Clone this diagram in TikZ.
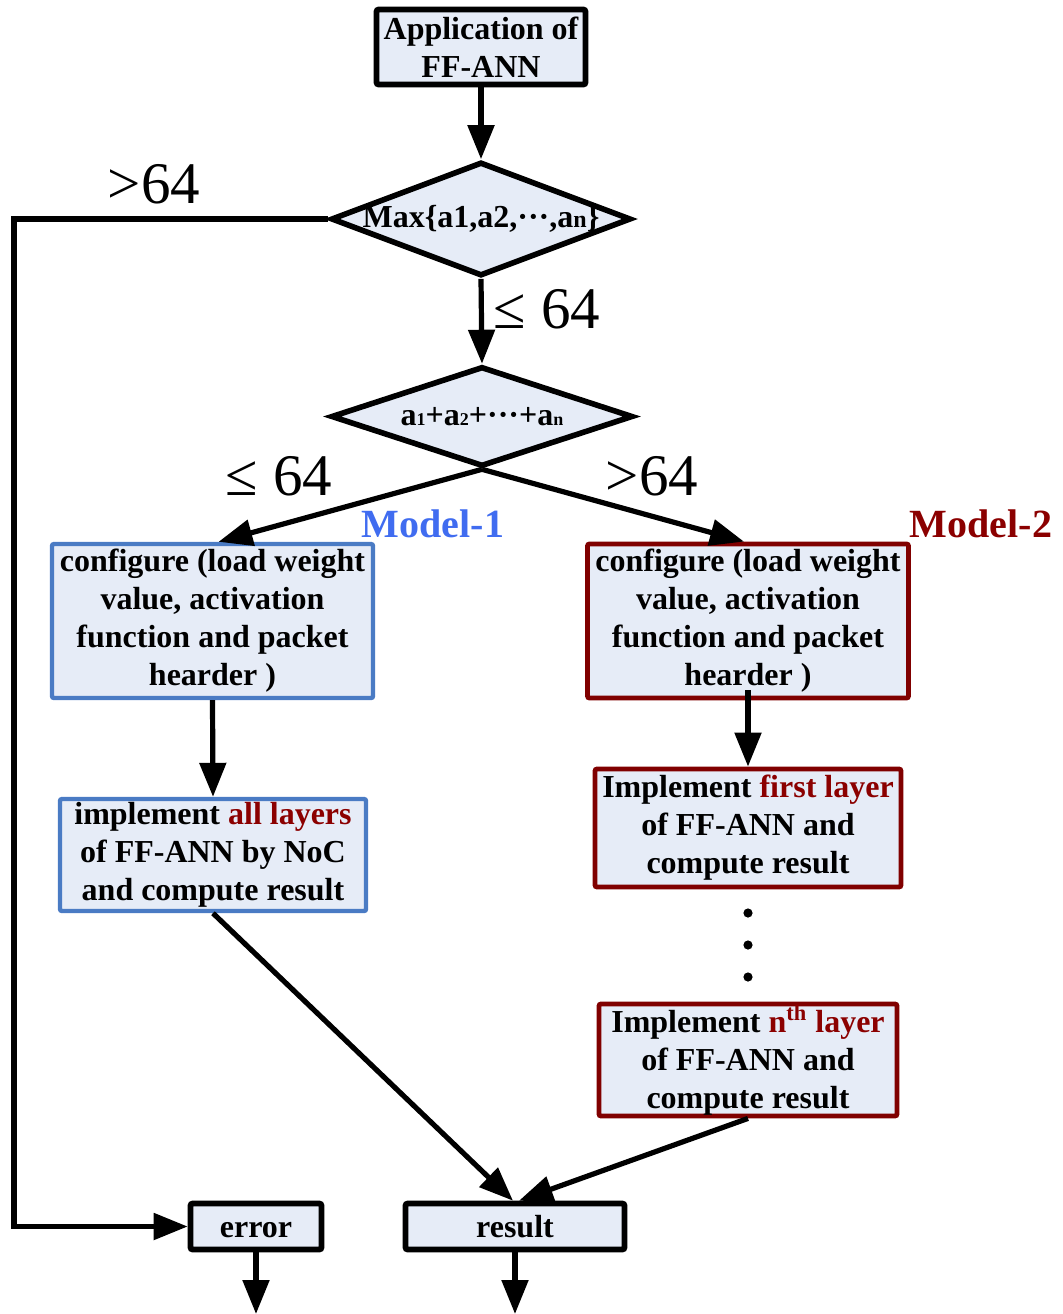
\documentclass[tikz,border=0pt]{standalone}
\usepackage{fontspec}
\setmainfont{Liberation Serif}
\usetikzlibrary{arrows.meta,shapes.geometric}
\definecolor{boxfill}{RGB}{230,236,247}
\definecolor{mblue}{RGB}{74,123,196}
\definecolor{mred}{RGB}{128,0,0}
\definecolor{tblue}{RGB}{64,108,240}
\definecolor{tred}{RGB}{139,0,0}
% small index letters sitting on the baseline
\newcommand{\idx}[1]{{\fontsize{9}{9}\selectfont #1}}
\begin{document}
\begin{tikzpicture}[x=0.5pt,y=-0.5pt,
  every node/.style={font=\fontsize{16}{19}\selectfont\bfseries, align=center, inner sep=0pt},
  blk/.style={draw=black, line width=2.8pt, fill=boxfill, rounded corners=1pt},
  bluebox/.style={draw=mblue, line width=2.2pt, fill=boxfill, rounded corners=1pt},
  redbox/.style={draw=mred, line width=2.4pt, fill=boxfill, rounded corners=1pt},
  decision/.style={diamond, draw=black, line width=2.8pt, fill=boxfill},
  endbox/.style={blk, minimum height=23pt, text height=11pt, text depth=0pt},
  flow/.style={line width=2.6pt, -{Triangle[length=17pt,width=13pt]}},
  cond/.style={font=\fontsize{29.5}{30}\selectfont\mdseries},
  tag/.style={font=\fontsize{20}{22}\selectfont\bfseries}]
\useasboundingbox (0,0) rectangle (1063,1314);

% start
\node[blk, minimum width=104.5pt, minimum height=37.5pt] (app) at (481,47) {Application of\\FF-ANN};

% decisions
\node[decision, minimum width=150pt, minimum height=57pt] (max) at (481,219) {};
\node at (max) {Max\{a1,a2,···,a{\fontsize{12}{12}\selectfont n}\}};
\node[decision, minimum width=151pt, minimum height=50pt] (sum) at (482,416.5) {};
\node at (sum) {a\idx{1}+a\idx{2}+···+a\idx{n}};

% model 1 branch
\node[bluebox, minimum width=160.5pt, minimum height=77pt] (cfga) at (212.5,621)
  {configure (load weight\\value, activation\\function and packet\\hearder )};
\node[bluebox, minimum width=153pt, minimum height=56pt] (impl) at (213,855)
  {implement \textcolor{tred}{all layers}\\of FF-ANN by NoC\\and compute result};

% model 2 branch
\node[redbox, minimum width=160.5pt, minimum height=77pt] (cfgb) at (748,621)
  {configure (load weight\\value, activation\\function and packet\\hearder )};
\node[redbox, minimum width=153pt, minimum height=59pt] (first) at (748,828)
  {Implement \textcolor{tred}{first layer}\\of FF-ANN and\\compute result};
\node[redbox, minimum width=149pt, minimum height=56pt] (nth) at (748,1060)
  {Implement \textcolor{tred}{n\textsuperscript{th} layer}\\of FF-ANN and\\compute result};
\fill (748,913) circle (2.3pt) (748,945) circle (2.3pt) (748,977) circle (2.3pt);

% ends
\node[endbox, minimum width=65.5pt] (err) at (256,1226.5) {error};
\node[endbox, minimum width=109.5pt] (res) at (515,1226.5) {result};
\coordinate (rail) at (14,0);
\coordinate (errout) at (256,1314);
\coordinate (resout) at (515,1314);

% connectors
\draw[flow] (app.south) -- (max.north);
\draw[flow] (max.south) -- (sum.north);
\draw[flow] (max.west) -- (max.west -| rail) |- (err.west);
\draw[flow] (sum.south) -- ([xshift=3pt]cfga.north);
\draw[flow] (sum.south) -- ([xshift=-2pt]cfgb.north);
\draw[flow] (cfga.south) -- (impl.north);
\draw[flow] ([yshift=5pt]cfgb.south) -- (first.north);
\draw[flow] (impl.south) -- ([xshift=-1pt]res.north);
\draw[flow] (nth.south) -- ([xshift=2pt]res.north);
\draw[flow] (err.south) -- (errout);
\draw[flow] (res.south) -- (resout);

% branch conditions and model tags
\node[cond, anchor=base] at (154,203) {>64};
\node[cond, anchor=base] at (547,328) {≤ 64};
\node[cond, anchor=base] at (279,495) {≤ 64};
\node[cond, anchor=base] at (652,495) {>64};
\node[tag, text=tblue, anchor=base] at (433,537) {Model-1};
\node[tag, text=tred, anchor=base] at (981,537) {Model-2};
\end{tikzpicture}
\end{document}
